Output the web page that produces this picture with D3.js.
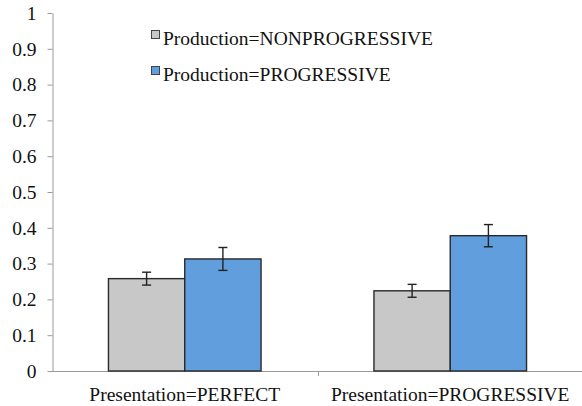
<!DOCTYPE html>
<html><head><meta charset="utf-8">
<script src="https://cdn.jsdelivr.net/npm/d3@7"></script>
<style>body{margin:0;background:#fff}svg{display:block}text{font-family:'Liberation Serif','Tinos','Times New Roman','Times','DejaVu Serif',serif !important;fill:#111}</style>
</head><body><svg id="c" width="582" height="406"></svg>
<script>
const categories = ["Presentation=PERFECT", "Presentation=PROGRESSIVE"];
const series = ["Production=NONPROGRESSIVE", "Production=PROGRESSIVE"];
const nonprogressive = [0.258, 0.224];
const progressive = [0.313, 0.378];
const errNonprogressive = [0.018, 0.018];
const errProgressive = [0.032, 0.031];
const yTicks = [0, 0.1, 0.2, 0.3, 0.4, 0.5, 0.6, 0.7, 0.8, 0.9, 1];
const colors = ["#c8c8c8", "#619edd"];

const values = [nonprogressive, progressive];
const errs = [errNonprogressive, errProgressive];
const svg = d3.select("#c");
const y = d3.scaleLinear().domain([0, 1]).range([371, 13]);
const x0 = d3.scaleBand().domain(categories).range([52, 583]);
const x1 = d3.scaleBand().domain(series).range([0, x0.bandwidth()]).paddingOuter(0.74).paddingInner(0);

// x axis line and boundary ticks
svg.append("line").attr("x1", 52).attr("x2", 583).attr("y1", y(0)+0.5).attr("y2", y(0)+0.5)
  .attr("stroke", "#9a9a9a").attr("stroke-width", 1);
categories.slice(1).forEach(c => {
  svg.append("line").attr("x1", Math.round(x0(c))+0.5).attr("x2", Math.round(x0(c))+0.5)
    .attr("y1", y(0)).attr("y2", y(0)+5).attr("stroke", "#9a9a9a");
});

// y axis
const ya = svg.append("g").attr("transform", "translate(52.5,0)")
  .call(d3.axisLeft(y).tickValues(yTicks).tickSize(5).tickSizeOuter(0).tickPadding(11).tickFormat(d => d3.format("")(d)));
ya.attr("font-family", null).attr("font-size", null);
ya.select(".domain").attr("stroke", "#9a9a9a");
ya.selectAll(".tick line").attr("stroke", "#9a9a9a");
ya.selectAll(".tick text").attr("font-size", "19.5px").attr("fill", "#111");

// bars
series.forEach((s, si) => {
  svg.append("g").selectAll("rect").data(categories).join("rect")
    .attr("x", c => x0(c) + x1(s))
    .attr("y", (c, i) => y(values[si][i]))
    .attr("width", x1.bandwidth())
    .attr("height", (c, i) => y(0) - y(values[si][i]))
    .attr("fill", colors[si]).attr("stroke", "#2a2a2a").attr("stroke-width", 1.4);
});

// error bars
series.forEach((s, si) => {
  categories.forEach((c, i) => {
    const cx = x0(c) + x1(s) + x1.bandwidth() / 2;
    const hi = y(values[si][i] + errs[si][i]);
    const lo = y(values[si][i] - errs[si][i]);
    const g = svg.append("g").attr("stroke", "#222").attr("stroke-width", 1.4);
    g.append("line").attr("x1", cx).attr("x2", cx).attr("y1", hi).attr("y2", lo);
    g.append("line").attr("x1", cx - 4.5).attr("x2", cx + 4.5).attr("y1", hi).attr("y2", hi);
    g.append("line").attr("x1", cx - 4.5).attr("x2", cx + 4.5).attr("y1", lo).attr("y2", lo);
  });
});

// category labels
svg.append("g").selectAll("text").data(categories).join("text")
  .attr("x", c => x0(c) + x0.bandwidth() / 2).attr("y", 401)
  .attr("text-anchor", "middle").attr("font-size", "19.5px").text(c => c);

// legend
series.forEach((s, si) => {
  const ly = 30 + si * 36;
  svg.append("rect").attr("x", 151.5).attr("y", ly + 0.5).attr("width", 8).attr("height", 8)
    .attr("fill", colors[si]).attr("stroke", "#444").attr("stroke-width", 1);
  svg.append("text").attr("x", 163).attr("y", ly + 14.5).attr("font-size", "19.5px").text(s);
});
</script></body></html>
